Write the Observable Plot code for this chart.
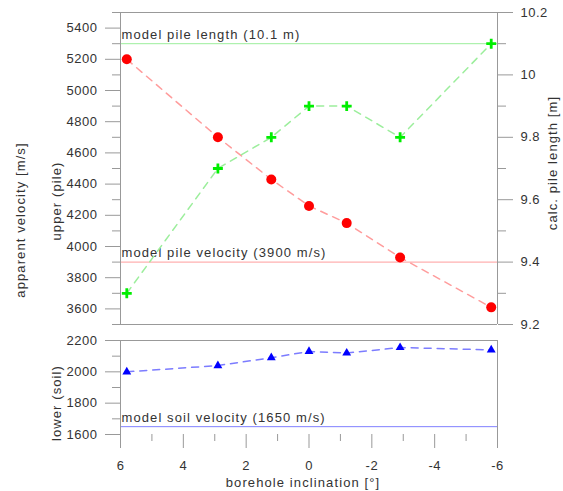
<!DOCTYPE html>
<html><head><meta charset="utf-8">
<script src="https://cdn.jsdelivr.net/npm/d3@7"></script>
<script src="https://cdn.jsdelivr.net/npm/@observablehq/plot@0.6"></script>
<style>
body{margin:0;background:#fff;}
#chart{position:relative;width:563px;height:491px;font-family:"Liberation Sans",Arial,sans-serif;font-size:13px;letter-spacing:1.1px;color:#333;}
#chart svg{position:absolute;left:0;overflow:visible;}
#chart svg g[aria-label$="tick label"]{letter-spacing:0.5px;}
.lbl{position:absolute;white-space:nowrap;transform:translate(-50%,-50%);line-height:1;}
.rot{transform:translate(-50%,-50%) rotate(-90deg);}
</style></head><body><div id="chart"></div>
<script>
// data
const inclination = [5.8, 2.9, 1.2, 0, -1.2, -2.9, -5.8];
const pileVelocity = [5200, 4700, 4430, 4260, 4150, 3930, 3610];
const pileLength = [9.3, 9.7, 9.8, 9.9, 9.9, 9.8, 10.1];
const soilVelocity = [2000, 2040, 2090, 2130, 2120, 2155, 2140];
const modelPileLength = 10.1;
const modelPileVelocity = 3900;
const modelSoilVelocity = 1650;
const xMajorTicks = [6, 4, 2, 0, -2, -4, -6];
const xMinorTicks = [5, 3, 1, -1, -3, -5];
const upperMajorTicks = [3600, 3800, 4000, 4200, 4400, 4600, 4800, 5000, 5200, 5400];
const upperMinorTicks = [3500, 3700, 3900, 4100, 4300, 4500, 4700, 4900, 5100, 5300, 5500];
const lengthMajorTicks = [9.2, 9.4, 9.6, 9.8, 10, 10.2];
const lengthMinorTicks = [9.3, 9.5, 9.7, 9.9, 10.1];
const lowerMajorTicks = [1600, 1800, 2000, 2200];
const lowerMinorTicks = [1700, 1900, 2100];

// secondary axis: calc. pile length [9.2, 10.2] shares the upper velocity frame [3500, 5500]
const lenToVel = L => 3500 + (L - 9.2) * 2000;
const velToLenLabel = v => String(+((v - 3500) / 2000 + 9.2).toFixed(1));

const rows = inclination.map((x, i) => ({x, v: pileVelocity[i], L: lenToVel(pileLength[i]), s: soilVelocity[i]}));

const gray = "#999";
const txt = "#333";
const plotStyle = {fontFamily: '"Liberation Sans", Arial, sans-serif', fontSize: "13px", letterSpacing: "1.1px", color: txt, background: "transparent", overflow: "visible"};

const upperPlot = Plot.plot({
  width: 563, height: 330,
  marginLeft: 120, marginRight: 66, marginTop: 12, marginBottom: 6,
  style: plotStyle,
  x: {domain: [6, -6], axis: null},
  y: {domain: [3500, 5500], label: null},
  marks: [
    Plot.ruleY([lenToVel(modelPileLength)], {stroke: "#9cee9c"}),
    Plot.ruleY([modelPileVelocity], {stroke: "#ff9c9c"}),
    Plot.text(["model pile length (10.1 m)"], {x: 6, y: lenToVel(modelPileLength), text: d => d, textAnchor: "start", dx: 1, dy: -9, fill: txt}),
    Plot.text(["model pile velocity (3900 m/s)"], {x: 6, y: modelPileVelocity, text: d => d, textAnchor: "start", dx: 1, dy: -9, fill: txt}),
    Plot.line(rows, {x: "x", y: "v", stroke: "#ff9c9c", strokeDasharray: "7,6"}),
    Plot.line(rows, {x: "x", y: "L", stroke: "#9cee9c", strokeDasharray: "7,6"}),
    Plot.dot(rows, {x: "x", y: "v", r: 5, fill: "#ff0000", stroke: "none"}),
    Plot.dot(rows, {x: "x", y: "L", symbol: "plus", r: 3.3, stroke: "#00ee00", strokeWidth: 2.8}),
    Plot.ruleY([3500, 5500], {stroke: gray}),
    Plot.ruleX([6, -6], {stroke: gray}),
    Plot.axisY({ticks: upperMajorTicks, anchor: "left", tickSize: 15, tickPadding: 8, stroke: gray, fill: txt, label: null, tickFormat: d => String(d)}),
    Plot.axisY({ticks: upperMinorTicks, anchor: "left", tickSize: 8, stroke: gray, label: null, tickFormat: () => ""}),
    Plot.axisY({ticks: lengthMajorTicks.map(lenToVel), anchor: "right", tickSize: 15, tickPadding: 8, stroke: gray, fill: txt, label: null, tickFormat: velToLenLabel}),
    Plot.axisY({ticks: lengthMinorTicks.map(lenToVel), anchor: "right", tickSize: 8, stroke: gray, label: null, tickFormat: () => ""})
  ]
});
upperPlot.style.top = "0px";

const lowerPlot = Plot.plot({
  width: 563, height: 161,
  marginLeft: 120, marginRight: 66, marginTop: 10, marginBottom: 57,
  style: plotStyle,
  x: {domain: [6, -6], label: null},
  y: {domain: [1600, 2200], label: null},
  marks: [
    Plot.ruleY([modelSoilVelocity], {stroke: "#8080ff"}),
    Plot.text(["model soil velocity (1650 m/s)"], {x: 6, y: modelSoilVelocity, text: d => d, textAnchor: "start", dx: 1, dy: -9, fill: txt}),
    Plot.line(rows, {x: "x", y: "s", stroke: "#7c7cff", strokeDasharray: "7,6"}),
    Plot.dot(rows, {x: "x", y: "s", symbol: "triangle", r: 3.3, fill: "#0000ff", stroke: "none"}),
    Plot.ruleY([2200], {stroke: gray}),
    Plot.ruleX([6, -6], {stroke: gray}),
    Plot.axisY({ticks: lowerMajorTicks, anchor: "left", tickSize: 15, tickPadding: 8, stroke: gray, fill: txt, label: null, tickFormat: d => String(d)}),
    Plot.axisY({ticks: lowerMinorTicks, anchor: "left", tickSize: 8, stroke: gray, label: null, tickFormat: () => ""}),
    Plot.axisX({ticks: xMajorTicks, anchor: "bottom", tickSize: 14, tickPadding: 12, stroke: gray, fill: txt, label: null, tickFormat: d => String(d)}),
    Plot.axisX({ticks: xMinorTicks, anchor: "bottom", tickSize: 7, stroke: gray, label: null, tickFormat: () => ""})
  ]
});
lowerPlot.style.top = "330px";

const chart = document.getElementById("chart");
chart.append(upperPlot, lowerPlot);

const labels = [
  {text: "apparent velocity [m/s]", x: 20, y: 220, rot: true},
  {text: "upper (pile)", x: 56, y: 201, rot: true},
  {text: "lower (soil)", x: 56, y: 403, rot: true},
  {text: "calc. pile length [m]", x: 552, y: 163, rot: true},
  {text: "borehole inclination [°]", x: 303, y: 482, rot: false}
];
for (const l of labels) {
  const d = document.createElement("div");
  d.className = "lbl" + (l.rot ? " rot" : "");
  d.textContent = l.text;
  d.style.left = l.x + "px";
  d.style.top = l.y + "px";
  chart.append(d);
}
</script>
</body></html>
